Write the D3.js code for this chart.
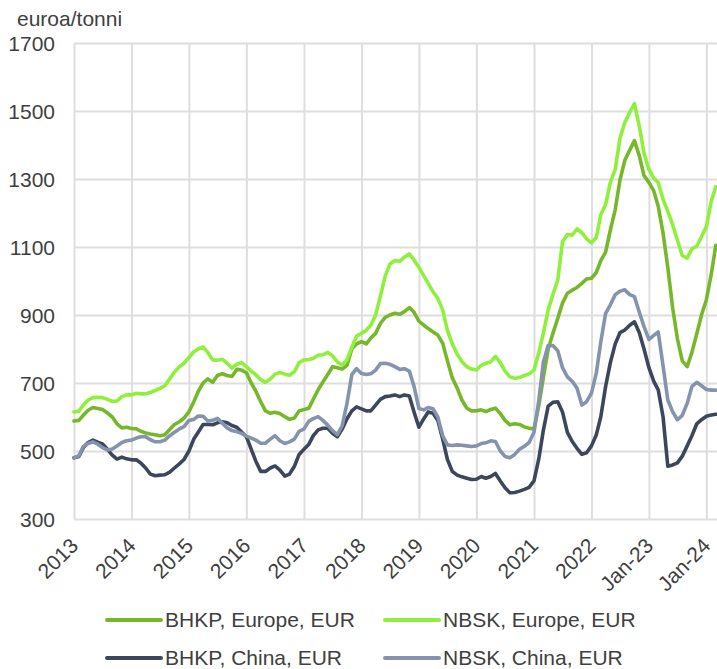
<!DOCTYPE html>
<html><head><meta charset="utf-8">
<script src="https://cdn.jsdelivr.net/npm/d3@7"></script>
<style>
body{margin:0;background:#fff;}
svg{display:block;}
text{font-family:"Liberation Sans",Arial,sans-serif;fill:#404040;}
</style>
</head><body>
<svg id="c" width="717" height="669"></svg>
<script>
// ---- data (monthly, Jan 2013 .. Mar 2024), EUR/tonne ----
const seriesNames = ["BHKP, Europe, EUR","NBSK, Europe, EUR","BHKP, China, EUR","NBSK, China, EUR"];
const seriesColors = ["#76b82a","#8ff03c","#3c475b","#8693ad"];
const xLabels = ["2013","2014","2015","2016","2017","2018","2019","2020","2021","2022","Jan-23","Jan-24"];
const yTicks = [300,500,700,900,1100,1300,1500,1700];
const yUnit = "euroa/tonni";

const bhkpEu = [
588,590,605,620,628,625,622,612,600,580,568,570,
566,565,558,553,550,548,545,548,563,578,586,597,
615,645,675,700,712,702,722,727,722,719,740,738,
730,700,676,645,618,611,614,610,601,593,597,618,
622,626,652,680,703,725,748,745,741,752,800,815,
822,815,832,846,875,893,900,905,902,910,922,908,
882,870,860,850,841,817,765,715,685,650,626,618,
618,621,616,622,626,610,590,577,580,578,571,567,
565,635,715,800,846,890,935,964,973,981,993,1006,
1008,1025,1060,1085,1150,1210,1297,1355,1385,1413,1368,1310,
1290,1265,1220,1140,1040,920,830,765,748,790,845,900,
945,1020,1105];

const nbskEu = [
615,617,635,650,657,658,657,652,646,647,660,665,
665,670,668,668,672,678,684,692,712,732,748,758,
775,792,800,806,790,768,767,770,758,744,755,760,
748,735,724,710,702,712,726,731,726,723,733,760,
768,769,772,782,783,790,780,762,753,768,805,838,
846,855,870,900,955,1015,1050,1060,1058,1070,1080,1062,
1040,1015,993,968,949,915,855,815,785,763,748,741,
738,752,758,762,778,760,735,718,714,716,722,727,
738,790,845,915,960,1003,1115,1137,1135,1153,1142,1124,
1112,1128,1195,1225,1290,1328,1420,1466,1496,1522,1455,1375,
1328,1302,1290,1240,1205,1165,1120,1075,1067,1095,1102,1130,
1160,1235,1277];

const bhkpCn = [
480,484,510,525,532,526,521,505,488,476,482,477,
474,474,465,450,432,427,429,430,438,450,462,475,
500,535,555,578,578,577,583,586,583,575,570,556,
542,505,470,440,440,450,456,444,426,432,455,490,
505,520,545,562,567,567,552,542,565,595,618,630,
624,618,618,635,652,660,662,665,660,665,662,615,
570,595,615,611,590,535,475,440,429,424,420,416,
417,425,420,425,434,412,392,377,378,382,387,393,
412,478,560,632,643,645,615,555,528,508,490,495,
515,548,600,690,760,815,848,856,870,880,848,800,
745,705,680,600,455,459,465,485,515,545,580,592,
602,606,608];

const nbskCn = [
480,486,513,522,527,520,510,503,506,515,525,530,
532,538,542,542,533,527,527,532,545,555,565,572,
590,593,603,602,588,590,596,582,568,560,557,552,
544,538,532,523,523,535,545,530,522,527,535,558,
565,588,595,601,590,576,560,548,575,640,725,742,
728,725,727,738,757,758,755,748,740,742,735,690,
625,621,628,624,600,545,518,516,518,517,515,513,
515,522,524,530,528,500,484,480,490,505,514,525,
555,650,760,810,810,795,745,718,705,685,635,645,
670,730,820,905,930,960,970,974,960,954,908,866,
828,840,850,750,650,615,592,605,640,690,702,692,
681,679,679];

const seriesValues = [bhkpEu, nbskEu, bhkpCn, nbskCn];

// ---- layout ----
const svg = d3.select("#c");
const pL = 74, pR = 764, pT = 43, pB = 519;
const FS = 21;
const months = d3.timeMonth.range(new Date(2013,0,1), new Date(2024,2,2));
const x = d3.scaleTime().domain([new Date(2013,0,1), new Date(2025,0,1)]).range([pL, pR]);
const y = d3.scaleLinear().domain([300,1700]).range([pB, pT]);
const yearTicks = d3.timeYear.range(new Date(2013,0,1), new Date(2024,0,2));

// y grid + labels
const gy = svg.append("g").attr("transform", `translate(${pL},0)`)
  .call(d3.axisLeft(y).tickValues(yTicks).tickSize(-(pR-pL)).tickPadding(19).tickFormat(d3.format("d")));
gy.select(".domain").remove();
gy.selectAll("line").attr("stroke","#dedede").attr("stroke-width",2);
gy.selectAll("text").attr("font-size",FS).attr("fill","#404040").attr("dy","0.35em")
  .attr("font-family","'Liberation Sans',Arial,sans-serif");

// x grid + labels
const gx = svg.append("g").attr("transform", `translate(0,${pB})`)
  .call(d3.axisBottom(x).tickValues(yearTicks).tickSize(-(pB-pT)).tickFormat((d,i)=>xLabels[i]));
gx.select(".domain").remove();
gx.selectAll("line").attr("stroke","#dedede").attr("stroke-width",2);
gx.selectAll("text").attr("font-size",FS).attr("fill","#404040")
  .attr("font-family","'Liberation Sans',Arial,sans-serif")
  .attr("x",0).attr("y",0).attr("dy",0)
  .attr("text-anchor","end")
  .attr("transform","translate(5,28) rotate(-45)");

// unit label
svg.append("text").attr("x",17).attr("y",26).attr("font-size",FS).text(yUnit);

// lines
const line = d3.line().x((d,i)=>x(months[i])).y(d=>y(d));
seriesValues.forEach((vals,k)=>{
  svg.append("path").datum(vals)
    .attr("d", line)
    .attr("fill","none")
    .attr("stroke", seriesColors[k])
    .attr("stroke-width",3.6)
    .attr("stroke-linejoin","round")
    .attr("stroke-linecap","round");
});

// legend
const legPos = [[107,620],[385,620],[107,658],[385,658]];
seriesNames.forEach((name,k)=>{
  const [lx,ly] = legPos[k];
  svg.append("line").attr("x1",lx).attr("x2",lx+54).attr("y1",ly).attr("y2",ly)
    .attr("stroke",seriesColors[k]).attr("stroke-width",4).attr("stroke-linecap","round");
  svg.append("text").attr("x",lx+58).attr("y",ly+7).attr("font-size",FS).text(name);
});
</script>
</body></html>
